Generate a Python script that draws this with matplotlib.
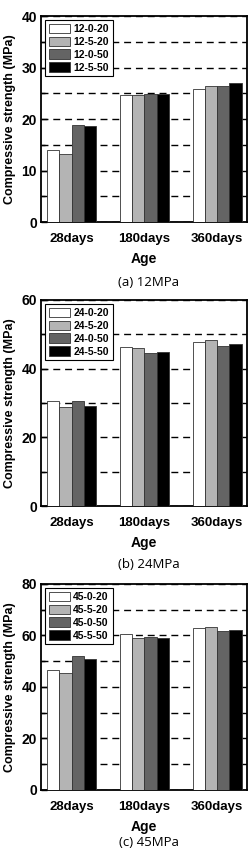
import numpy as np
import matplotlib.pyplot as plt
from matplotlib.ticker import MultipleLocator

ages = ["28days", "180days", "360days"]
colors = ["white", "#b4b4b4", "#646464", "black"]

# (a) 12MPa
labels_a = ["12-0-20", "12-5-20", "12-0-50", "12-5-50"]
vals_a = [[13.9, 24.7, 25.9],
          [13.2, 24.7, 26.4],
          [18.8, 24.9, 26.4],
          [18.6, 24.9, 27.0]]

# (b) 24MPa
labels_b = ["24-0-20", "24-5-20", "24-0-50", "24-5-50"]
vals_b = [[30.6, 46.4, 47.7],
          [28.7, 45.9, 48.4],
          [30.5, 44.5, 46.7],
          [29.2, 44.8, 47.3]]

# (c) 45MPa
labels_c = ["45-0-20", "45-5-20", "45-0-50", "45-5-50"]
vals_c = [[46.6, 60.5, 62.8],
          [45.3, 58.9, 63.4],
          [52.0, 59.3, 61.7],
          [51.0, 59.0, 62.3]]

panels = [
    (labels_a, vals_a, 40, 10, 5, "(a) 12MPa", 0.7394, 0.668),
    (labels_b, vals_b, 60, 20, 10, "(b) 24MPa", 0.4061, 0.337),
    (labels_c, vals_c, 80, 20, 10, "(c) 45MPa", 0.0728, 0.011),
]

plt.rcParams['font.family'] = ['Liberation Sans', 'DejaVu Sans']
fig = plt.figure(figsize=(2.52, 8.52), dpi=100)

x = np.arange(len(ages))
w = 0.168
for labels, vals, ymax, major, minor, caption, bottom, capy in panels:
    ax = fig.add_axes([0.163, bottom, 0.817, 0.2418])
    for i in range(4):
        ax.bar(x + (i - 1.5) * w, vals[i], w, color=colors[i], edgecolor="#333333",
               linewidth=0.6, label=labels[i], zorder=3)
    ax.set_xlim(-0.42, 2.41)
    ax.set_ylim(0, ymax)
    ax.yaxis.set_major_locator(MultipleLocator(major))
    ax.yaxis.set_minor_locator(MultipleLocator(minor))
    ax.yaxis.grid(True, which="both", linestyle=(0, (5, 3.5)), color="black", linewidth=1.0, zorder=0)
    ax.set_axisbelow(True)
    ax.set_xticks(x)
    ax.set_xticklabels(ages, fontsize=9.5, fontweight="bold")
    ax.tick_params(axis="y", which="major", direction="in", length=4, labelsize=10, width=1, pad=3)
    ax.tick_params(axis="y", which="minor", direction="in", length=3, width=1)
    ax.tick_params(axis="x", length=0, pad=8)
    for lab in ax.get_yticklabels():
        lab.set_fontweight("bold")
    for s in ax.spines.values():
        s.set_linewidth(1.3)
    ax.set_xlabel("Age", fontsize=10, fontweight="bold", labelpad=5)
    ax.set_ylabel("Compressive strength (MPa)", fontsize=9, fontweight="bold", labelpad=4)
    leg = ax.legend(loc="upper left", prop={"weight": "bold", "size": 7.5},
                    fancybox=False, edgecolor="black", framealpha=1, handlelength=2.0,
                    handleheight=1.0, labelspacing=0.25, borderpad=0.35, handletextpad=0.35,
                    borderaxespad=0.4)
    leg.get_frame().set_linewidth(0.8)
    leg.set_zorder(5)
    fig.text(0.59, capy, caption, ha="center", va="center", fontsize=9.5, family="Open Sans")

fig.savefig("out.png", dpi=100)
